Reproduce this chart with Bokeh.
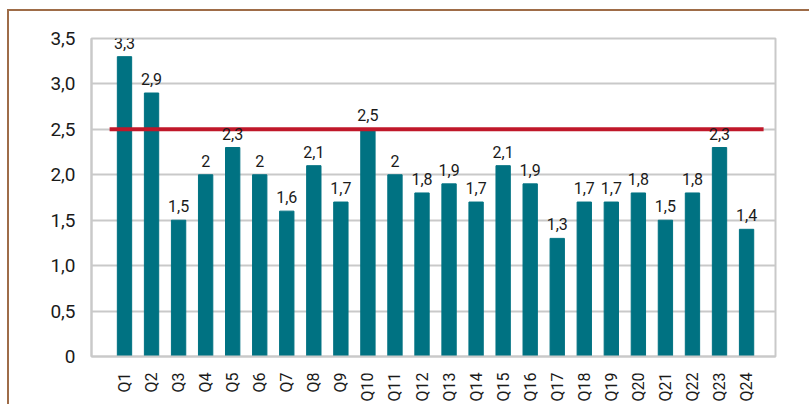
import math
from bokeh.plotting import figure
from bokeh.models import Range1d, FixedTicker, ColumnDataSource
from bokeh.core.properties import value
from bokeh.embed import file_html
from bokeh.resources import INLINE

categories = [f"Q{i}" for i in range(1, 25)]
values = [3.3, 2.9, 1.5, 2.0, 2.3, 2.0, 1.6, 2.1, 1.7, 2.5, 2.0, 1.8,
          1.9, 1.7, 2.1, 1.9, 1.3, 1.7, 1.7, 1.8, 1.5, 1.8, 2.3, 1.4]
target = 2.5
y_ticks = [0, 0.5, 1.0, 1.5, 2.0, 2.5, 3.0, 3.5]
y_tick_labels = ["0", "0,5", "1,0", "1,5", "2,0", "2,5", "3,0", "3,5"]

xs = list(range(1, len(categories) + 1))
labels = [(f"{v:g}").replace(".", ",") for v in values]
src = ColumnDataSource(dict(x=xs, y=values, label=labels))

FONT = "Roboto"
GRID = "#c9c9c9"

p = figure(width=802, height=395, output_backend="svg", toolbar_location=None,
           x_range=Range1d(-0.22, 25.07), y_range=Range1d(0, 3.5),
           min_border_left=82, min_border_right=36, min_border_top=27,
           min_border_bottom=50)
p.styles = {"border-top": "2px solid #9e6c48", "border-left": "2px solid #9e6c48",
            "margin-left": "7px", "margin-top": "9px"}

p.vbar(x="x", top="y", width=0.53, bottom=0, source=src, color="#007282")
p.segment(x0=[xs[0] - 0.55], x1=[xs[-1] + 0.63], y0=[target], y1=[target],
          line_color="#c0182a", line_width=4)
p.text(x="x", y="y", text="label", source=src, text_align="center",
       text_baseline="bottom", y_offset=-8, text_font=value(FONT),
       text_font_size="16px", text_color="#1a1a1a")

p.xaxis.ticker = FixedTicker(ticks=xs)
p.xaxis.major_label_overrides = {x: c for x, c in zip(xs, categories)}
p.xaxis.major_label_orientation = math.pi / 2
p.yaxis.ticker = FixedTicker(ticks=y_ticks)
p.yaxis.major_label_overrides = {t: l for t, l in zip(y_ticks, y_tick_labels)}

for ax in (p.xaxis, p.yaxis):
    ax.axis_line_color = GRID
    ax.axis_line_width = 2
    ax.major_tick_line_color = None
    ax.minor_tick_line_color = None
    ax.major_label_text_font = FONT
    ax.major_label_text_color = "#1a1a1a"
    ax.major_label_standoff = 10
p.xaxis.major_label_text_font_size = "16px"
p.yaxis.major_label_text_font_size = "19px"

p.xgrid.grid_line_color = None
p.ygrid.grid_line_color = GRID
p.ygrid.grid_line_width = 2
p.outline_line_color = GRID
p.outline_line_width = 2
p.background_fill_color = "white"

open("out.html", "w").write(file_html(p, INLINE))
